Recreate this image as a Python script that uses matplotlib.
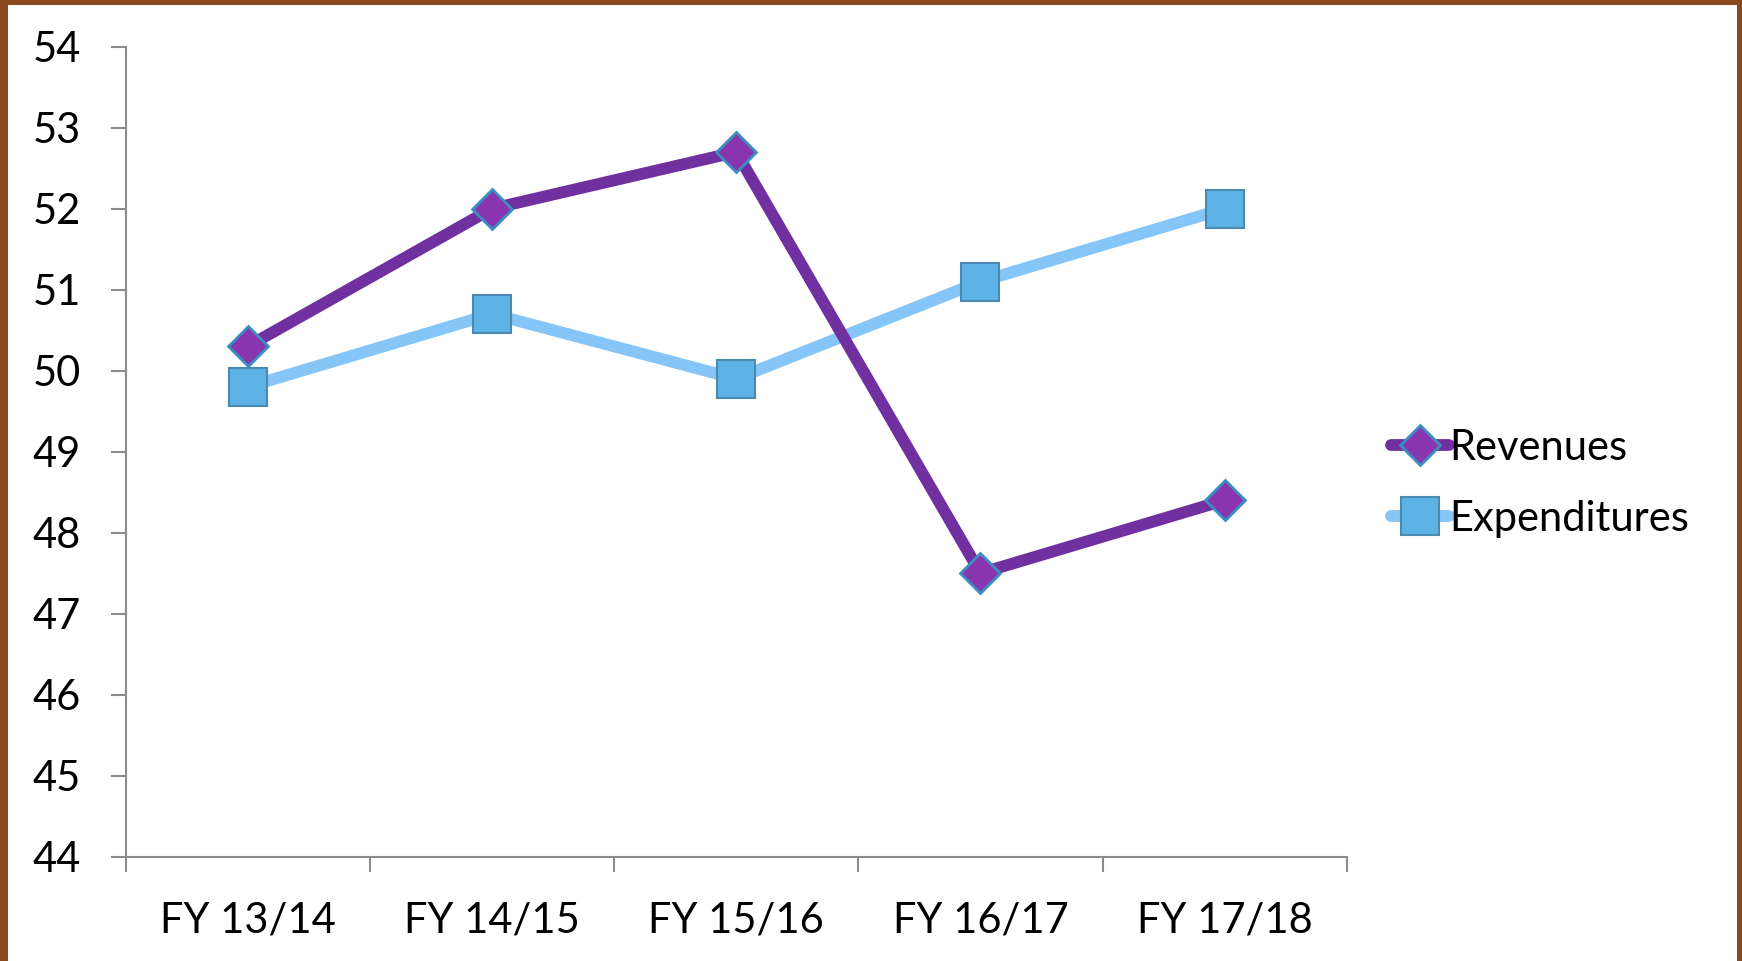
import matplotlib.pyplot as plt
from matplotlib.patches import Rectangle

# data
categories = ["FY 13/14", "FY 14/15", "FY 15/16", "FY 16/17", "FY 17/18"]
revenues = [50.3, 52.0, 52.7, 47.5, 48.4]
expenditures = [49.8, 50.7, 49.9, 51.1, 52.0]
y_ticks = [44, 45, 46, 47, 48, 49, 50, 51, 52, 53, 54]

plt.rcParams['font.family'] = ['Lato', 'DejaVu Sans']

fig = plt.figure(figsize=(17.42, 9.61), dpi=100)
fig.patch.set_facecolor('#8a4a1e')
# white slide area inside the wooden border
bg = fig.add_axes([0, 0, 1, 1], zorder=-5)
bg.axis('off')
bg.add_patch(Rectangle((0.0046, 0.0), 0.9925, 0.9948, transform=fig.transFigure,
                       facecolor='white', edgecolor='none'))

ax = fig.add_axes([0.0721, 0.1086, 0.701, 0.8428], zorder=2)
ax.set_facecolor('none')

x = list(range(len(categories)))
ax.plot(x, revenues, color='#7030a0', lw=8.5, marker='D', markersize=20,
        markerfacecolor='#8a35b0', markeredgecolor='#3b8fc0', markeredgewidth=2,
        label='Revenues', solid_capstyle='round', zorder=3)
ax.plot(x, expenditures, color='#85c5f7', lw=8.5, marker='s', markersize=27,
        markerfacecolor='#5db3e6', markeredgecolor='#4a89b2', markeredgewidth=1.5,
        label='Expenditures', solid_capstyle='round', zorder=2)

ax.set_xlim(-0.5, len(categories) - 0.5)
ax.set_ylim(44, 54)
ax.set_yticks(y_ticks)
ax.set_xticks([i - 0.5 for i in range(len(categories) + 1)])
ax.set_xticklabels([])
ax.set_xticks(x, minor=True)
ax.set_xticklabels(categories, minor=True)

for s in ['top', 'right']:
    ax.spines[s].set_visible(False)
for s in ['left', 'bottom']:
    ax.spines[s].set_color('#8c8c8c')
    ax.spines[s].set_linewidth(1.5)

ax.tick_params(axis='y', length=11, width=1.5, color='#8c8c8c', labelsize=30, pad=21)
ax.tick_params(axis='x', which='major', length=11, width=1.5, color='#8c8c8c')
ax.tick_params(axis='x', which='minor', length=0, labelsize=30, pad=32)

fig.legend(loc='center left', bbox_to_anchor=(0.789, 0.497), frameon=False,
           fontsize=30, handlelength=1.4, handletextpad=0.0, labelspacing=0.8,
           borderaxespad=0)

fig.savefig('out.png', dpi=100, facecolor=fig.get_facecolor())
